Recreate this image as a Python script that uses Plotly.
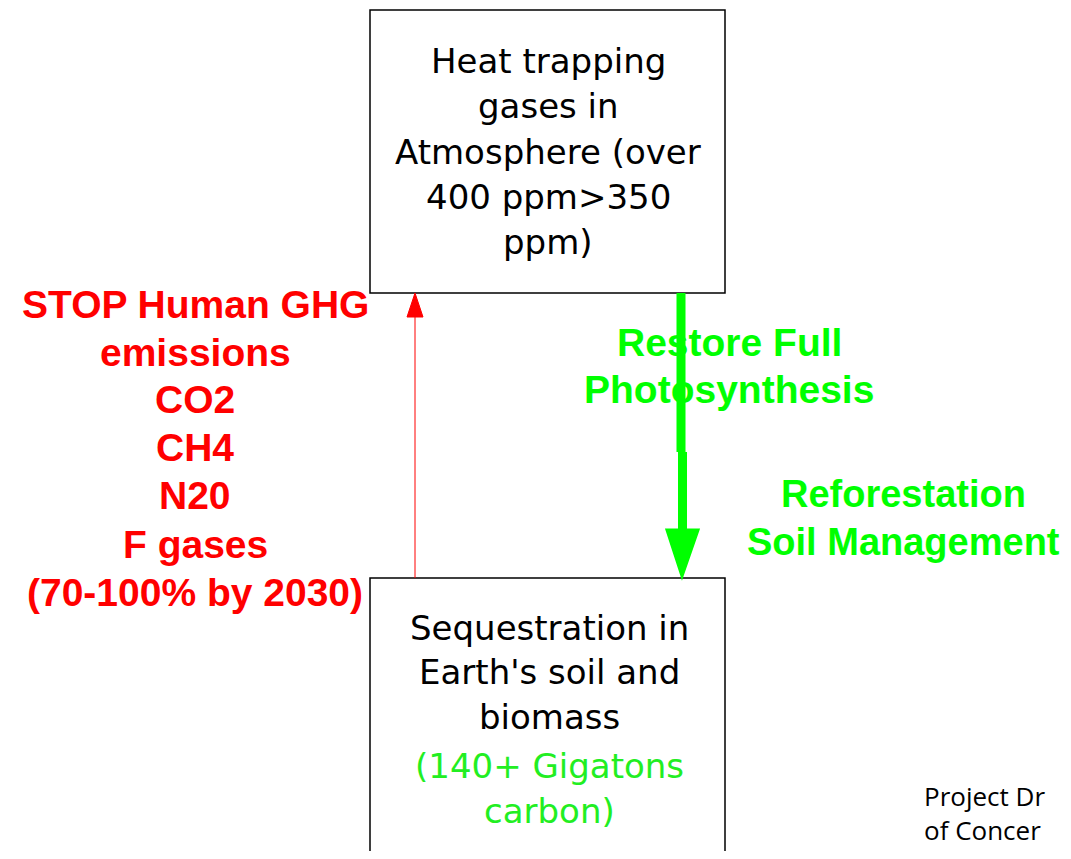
import plotly.graph_objects as go

# ---- diagram content ----
top_box_lines = ["Heat trapping", "gases in", "Atmosphere (over", "400 ppm>350", "ppm)"]
bottom_box_black = ["Sequestration in", "Earth's soil and", "biomass"]
bottom_box_green = ["(140+ Gigatons", "carbon)"]
red_lines = ["STOP Human GHG", "emissions", "CO2", "CH4", "N20", "F gases", "(70-100% by 2030)"]
green_mid_lines = ["Restore Full", "Photosynthesis"]
green_right_lines = ["Reforestation", "Soil Management"]
footer_lines = ["Project Dr", "of Concer"]

# layout geometry (page pixel space; page body has an 8px margin)
PAGE_W, PAGE_H = 1071, 859
OFF = 8
W, H = PAGE_W - 2 * OFF, PAGE_H - 2 * OFF
top_box = dict(x0=370, y0=10, x1=725, y1=293)
bottom_box = dict(x0=370, y0=578, x1=725, y1=900)

RED = "#ff0000"
GREEN = "#00ff00"
FONT = "DejaVu Sans, Liberation Sans, Arial, sans-serif"
BOLD_FONT = "Liberation Sans, Arial, sans-serif"

fig = go.Figure()
fig.add_trace(go.Scatter(x=[OFF, OFF + W], y=[OFF, OFF + H], mode="markers", marker=dict(opacity=0),
                         hoverinfo="skip", showlegend=False))

shapes = []
for b in (top_box, bottom_box):
    shapes.append(dict(type="rect", xref="x", yref="y", **b, line=dict(color="black", width=1.5),
                       fillcolor="white", layer="below"))

# red thin arrow (up)
shapes.append(dict(type="line", xref="x", yref="y", x0=415, y0=578, x1=415, y1=316, line=dict(color=RED, width=1)))
shapes.append(dict(type="path", xref="x", yref="y", path="M 415 293 L 407 317 L 423 317 Z",
                   fillcolor=RED, line=dict(color=RED, width=1)))

# green thick arrow (down)
shapes.append(dict(type="line", xref="x", yref="y", x0=681, y0=293, x1=681, y1=452, line=dict(color=GREEN, width=9)))
shapes.append(dict(type="line", xref="x", yref="y", x0=682.5, y0=452, x1=682.5, y1=540, line=dict(color=GREEN, width=9)))
shapes.append(dict(type="path", xref="x", yref="y", path="M 682 576 L 667 530 L 698 530 Z",
                   fillcolor=GREEN, line=dict(color=GREEN, width=3)))

annotations = []
def add_lines(lines, x, ys, color, size, bold=False, family=FONT, xanchor="center"):
    for t, y in zip(lines, ys):
        txt = f"<b>{t}</b>" if bold else t
        annotations.append(dict(x=x, y=y, xref="x", yref="y", text=txt, showarrow=False,
                                xanchor=xanchor, yanchor="middle",
                                font=dict(color=color, size=size, family=family)))

add_lines(top_box_lines, 548, [61, 106, 152, 197, 242], "black", 34)
add_lines(bottom_box_black, 549, [628, 672, 717], "black", 34)
add_lines(bottom_box_green, 549, [766, 811], "#22ee22", 34)
add_lines(red_lines, 195, [304, 352, 399, 447, 495, 544, 592], RED, 39, bold=True, family=BOLD_FONT)
add_lines(green_mid_lines, 729, [342, 389], GREEN, 39, bold=True, family=BOLD_FONT)
add_lines(green_right_lines, 903, [494, 542], GREEN, 38, bold=True, family=BOLD_FONT)

# footer as one two-line block anchored to the bottom edge
annotations.append(dict(x=922, y=OFF + H - 1, xref="x", yref="y", text="<br>".join(footer_lines),
                        showarrow=False, xanchor="left", yanchor="bottom", align="left",
                        font=dict(color="black", size=26, family="Open Sans, Lato, sans-serif")))

fig.update_layout(
    width=W, height=H,
    margin=dict(l=0, r=0, t=0, b=0),
    paper_bgcolor="white", plot_bgcolor="white",
    xaxis=dict(range=[OFF, OFF + W], visible=False, fixedrange=True),
    yaxis=dict(range=[OFF + H, OFF], visible=False, fixedrange=True),
    shapes=shapes, annotations=annotations,
    showlegend=False,
)
fig.write_html("out.html")
